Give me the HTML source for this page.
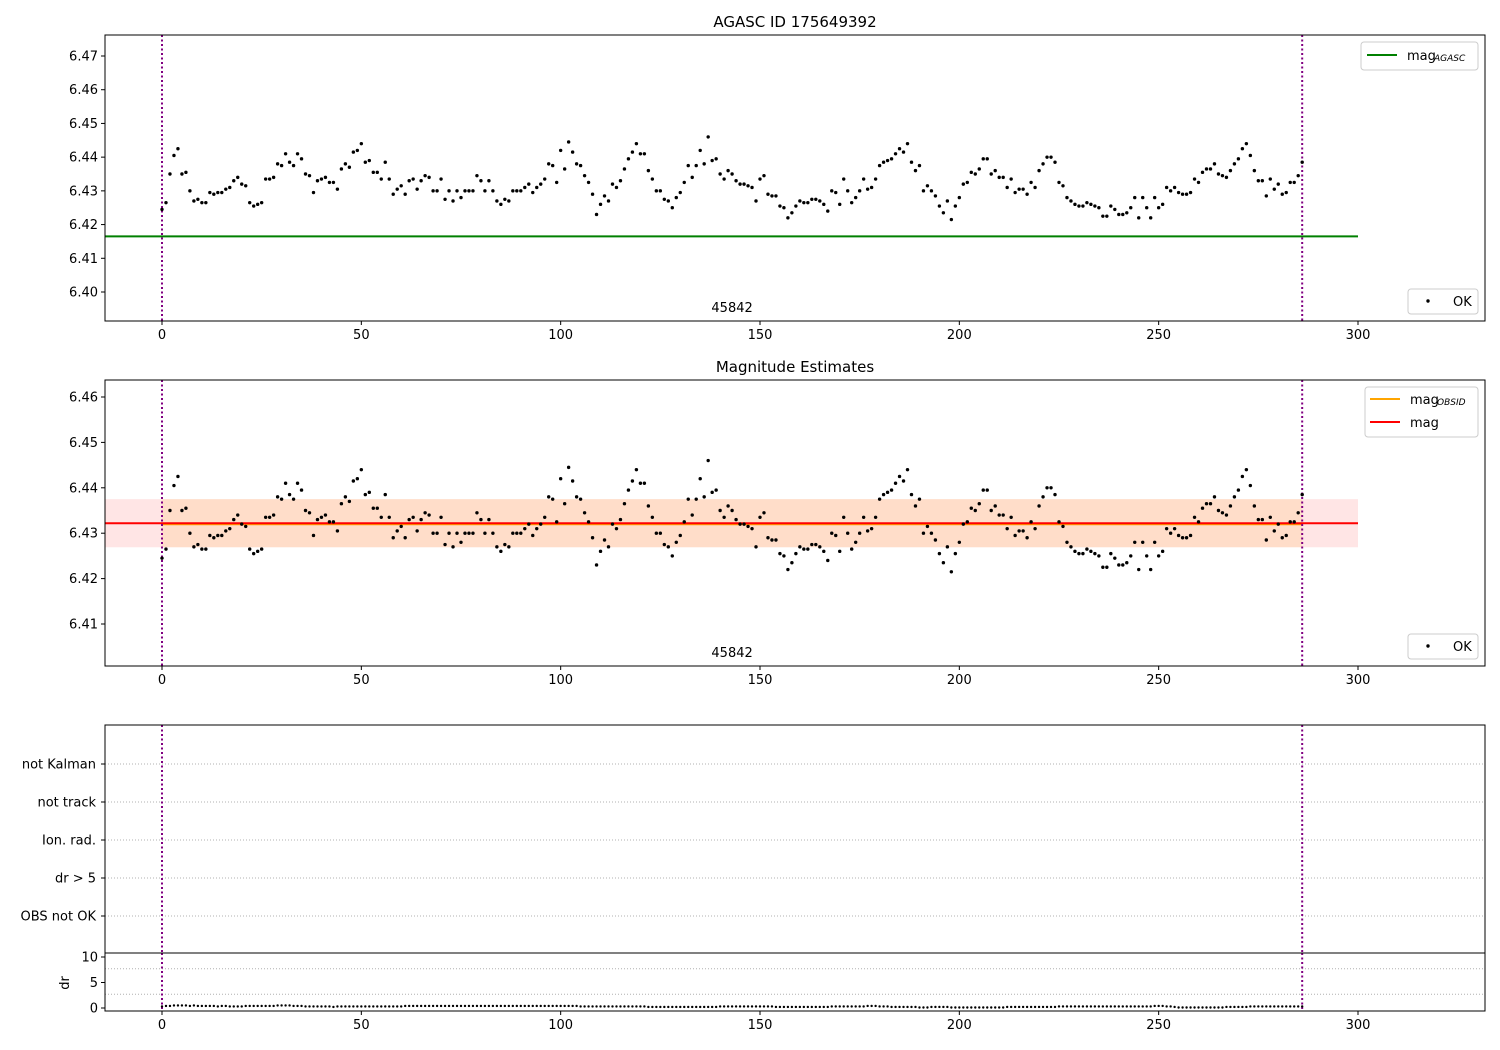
<!DOCTYPE html>
<html><head><meta charset="utf-8"><style>
html,body{margin:0;padding:0;background:#fff}
svg{display:block;font-family:"DejaVu Sans","Liberation Sans",sans-serif}
</style></head><body>
<svg id="fig" width="1500" height="1050" viewBox="0 0 1500 1050" xmlns="http://www.w3.org/2000/svg"></svg>
<script>
const mags = [6.4245,6.4265,6.435,6.4405,6.4425,6.435,6.4355,6.430,6.427,6.4275,6.4265,6.4265,6.4295,6.429,6.4295,6.4295,6.4305,6.431,6.433,6.434,
6.432,6.4315,6.4265,6.4255,6.426,6.4265,6.4335,6.4335,6.434,6.438,6.4375,6.441,6.4385,6.4375,6.441,6.4395,6.435,6.4345,6.4295,6.433,
6.4335,6.434,6.4325,6.4325,6.4305,6.4365,6.438,6.437,6.4415,6.442,6.444,6.4385,6.439,6.4355,6.4355,6.4335,6.4385,6.4335,6.429,6.4305,
6.4315,6.429,6.433,6.4335,6.4305,6.433,6.4345,6.434,6.430,6.430,6.4335,6.4275,6.430,6.427,6.430,6.428,6.430,6.430,6.430,6.4345,
6.433,6.430,6.433,6.430,6.427,6.426,6.4275,6.427,6.430,6.430,6.430,6.431,6.432,6.4295,6.431,6.432,6.4335,6.438,6.4375,6.4325,
6.442,6.4365,6.4445,6.4415,6.438,6.4375,6.4345,6.4325,6.429,6.423,6.426,6.4285,6.427,6.432,6.431,6.433,6.4365,6.4395,6.4415,6.444,
6.441,6.441,6.436,6.4335,6.430,6.430,6.4275,6.427,6.425,6.428,6.4295,6.4325,6.4375,6.434,6.4375,6.442,6.438,6.446,6.439,6.4395,
6.435,6.4335,6.436,6.435,6.433,6.432,6.432,6.4315,6.431,6.427,6.4335,6.4345,6.429,6.4285,6.4285,6.4255,6.425,6.422,6.4235,6.4255,
6.427,6.4265,6.4265,6.4275,6.4275,6.427,6.426,6.424,6.430,6.4295,6.426,6.4335,6.430,6.4265,6.428,6.430,6.4335,6.4305,6.431,6.4335,
6.4375,6.4385,6.439,6.4395,6.441,6.4425,6.4415,6.444,6.4385,6.436,6.4375,6.430,6.4315,6.430,6.4285,6.4255,6.4235,6.427,6.4215,6.4255,
6.428,6.432,6.4325,6.4355,6.435,6.4365,6.4395,6.4395,6.435,6.436,6.434,6.434,6.431,6.4335,6.4295,6.4305,6.4305,6.429,6.4325,6.431,
6.436,6.438,6.440,6.440,6.4385,6.4325,6.4315,6.428,6.427,6.426,6.4255,6.4255,6.4265,6.426,6.4255,6.425,6.4225,6.4225,6.4255,6.4245,
6.423,6.423,6.4235,6.425,6.428,6.422,6.428,6.425,6.422,6.428,6.425,6.426,6.431,6.430,6.431,6.4295,6.429,6.429,6.4295,6.4335,
6.4325,6.4355,6.4365,6.4365,6.438,6.435,6.4345,6.434,6.436,6.438,6.4395,6.4425,6.444,6.4405,6.436,6.433,6.433,6.4285,6.4335,6.4305,
6.432,6.429,6.4295,6.4325,6.4325,6.4345,6.4385];
const drVals = [0.3,0.4,0.4,0.5,0.5,0.5,0.5,0.4,0.5,0.4,0.4,0.4,0.4,0.4,0.3,0.4,0.4,0.3,0.3,0.3,
0.3,0.4,0.4,0.4,0.4,0.4,0.4,0.4,0.4,0.5,0.5,0.5,0.5,0.4,0.4,0.4,0.3,0.3,0.3,0.3,
0.3,0.3,0.3,0.2,0.3,0.3,0.3,0.3,0.3,0.3,0.3,0.3,0.3,0.3,0.3,0.3,0.3,0.3,0.3,0.3,
0.3,0.4,0.4,0.4,0.4,0.4,0.4,0.4,0.4,0.4,0.4,0.4,0.4,0.4,0.4,0.4,0.4,0.4,0.4,0.4,
0.4,0.4,0.4,0.4,0.4,0.4,0.4,0.4,0.4,0.4,0.4,0.4,0.4,0.4,0.4,0.4,0.4,0.4,0.4,0.4,
0.4,0.4,0.4,0.4,0.4,0.3,0.3,0.3,0.3,0.3,0.3,0.3,0.3,0.3,0.3,0.3,0.3,0.3,0.3,0.3,
0.3,0.3,0.2,0.2,0.2,0.2,0.2,0.2,0.2,0.2,0.2,0.2,0.2,0.2,0.2,0.2,0.2,0.2,0.2,0.2,
0.3,0.3,0.3,0.3,0.3,0.3,0.3,0.3,0.3,0.3,0.3,0.3,0.3,0.3,0.2,0.2,0.2,0.2,0.2,0.2,
0.2,0.2,0.2,0.2,0.2,0.2,0.2,0.2,0.3,0.3,0.3,0.3,0.3,0.3,0.3,0.3,0.3,0.4,0.4,0.4,
0.3,0.3,0.3,0.2,0.2,0.2,0.2,0.2,0.2,0.2,0.1,0.1,0.1,0.2,0.2,0.2,0.2,0.2,0.1,0.1,
0.1,0.1,0.1,0.1,0.1,0.1,0.1,0.1,0.1,0.1,0.1,0.1,0.2,0.2,0.2,0.2,0.2,0.2,0.2,0.2,
0.2,0.2,0.2,0.2,0.2,0.3,0.3,0.3,0.3,0.3,0.3,0.3,0.3,0.3,0.3,0.3,0.3,0.3,0.3,0.3,
0.3,0.3,0.3,0.3,0.3,0.3,0.3,0.3,0.3,0.4,0.4,0.4,0.3,0.3,0.2,0.1,0.1,0.1,0.1,0.1,
0.1,0.1,0.1,0.1,0.1,0.1,0.1,0.2,0.2,0.2,0.2,0.2,0.2,0.3,0.3,0.3,0.3,0.3,0.3,0.3,
0.3,0.3,0.3,0.3,0.3,0.3,0.3];
const xTicks = [0,50,100,150,200,250,300];
const y1Ticks = [6.40,6.41,6.42,6.43,6.44,6.45,6.46,6.47];
const y2Ticks = [6.41,6.42,6.43,6.44,6.45,6.46];
const flagLabels = ["not Kalman","not track","Ion. rad.","dr > 5","OBS not OK"];
const drTicks = [0,5,10];
const magAgasc = 6.4165;
const magObsid = 6.4322;
const magErr = 0.0053;
const obsStart = 0, obsEnd = 286;

const NS="http://www.w3.org/2000/svg";
const svg=document.getElementById('fig');
function el(tag,attrs,parent){const e=document.createElementNS(NS,tag);for(const k in attrs)e.setAttribute(k,attrs[k]);(parent||svg).appendChild(e);return e;}
function txt(s,attrs){const t=el('text',attrs);t.textContent=s;return t;}
const L=105,R=1485;
const X=v=>162+v*(1358-162)/300;
const Y1=v=>292+(6.40-v)*(292-56)/0.07;
const Y2=v=>624+(6.41-v)*(624-397)/0.05;
const Y4=v=>1008-v*(1008-957)/10;

function frame(top,bot,name){const r=el('rect',{x:L,y:top,width:R-L,height:bot-top,fill:'none',stroke:'#000','stroke-width':1});

}
function xAxis(bot,labels){xTicks.forEach(t=>{el('line',{x1:X(t),x2:X(t),y1:bot,y2:bot+4,stroke:'#000'});
if(labels){const s=txt(String(t),{x:X(t),y:bot+18,'font-size':13,'text-anchor':'middle'});

}});}
function yAxis(ticks,Yf,fmt){ticks.forEach(t=>{el('line',{x1:L-4,x2:L,y1:Yf(t),y2:Yf(t),stroke:'#000'});
const s=txt(fmt(t),{x:L-7,y:Yf(t)+4.5,'font-size':13,'text-anchor':'end'});

});}
function vlines(top,bot){[obsStart,obsEnd].forEach(v=>{const l=el('line',{x1:X(v),x2:X(v),y1:top,y2:bot,stroke:'#800080','stroke-width':2,'stroke-dasharray':'2,2.5'});

});}
function points(vals,Yf,name,r){const g=el('g',{});


vals.forEach((v,i)=>el('circle',{cx:X(i),cy:Yf(v),r:r||1.7,fill:'#000'},g));}
function legendBox(x,y,w,h){el('rect',{x:x,y:y,width:w,height:h,rx:3,fill:'#fff',stroke:'#ccc'});}

// Panel 1
let t=txt('AGASC ID 175649392',{x:795,y:27,'font-size':15,'text-anchor':'middle'});


let gl=el('line',{x1:X(-14.35),x2:X(300),y1:Y1(magAgasc),y2:Y1(magAgasc),stroke:'#008000','stroke-width':2});


vlines(35,321);
points(mags,Y1,'mag-points-top');
t=txt('45842',{x:X(143),y:312,'font-size':13,'text-anchor':'middle'});


frame(35,321,'top-axes');xAxis(321,true);yAxis(y1Ticks,Y1,v=>v.toFixed(2));
legendBox(1361,42,117,28);el('line',{x1:1367,x2:1397,y1:55,y2:55,stroke:'#008000','stroke-width':2});
t=txt('mag',{x:1407,y:60,'font-size':13});
txt('AGASC',{x:1434,y:61,'font-size':9,'font-style':'italic'});
legendBox(1408,289,70,25);el('circle',{cx:1428,cy:301,r:1.7,fill:'#000'});
t=txt('OK',{x:1453,y:306,'font-size':13});

// Panel 2
t=txt('Magnitude Estimates',{x:795,y:372,'font-size':15,'text-anchor':'middle'});


let b=el('rect',{x:X(-14.35),y:Y2(magObsid+magErr),width:X(300)-X(-14.35),height:Y2(magObsid-magErr)-Y2(magObsid+magErr),fill:'#ff0000','fill-opacity':0.1});


b=el('rect',{x:X(obsStart),y:Y2(magObsid+magErr),width:X(obsEnd)-X(obsStart),height:Y2(magObsid-magErr)-Y2(magObsid+magErr),fill:'#ffa500','fill-opacity':0.12});


let ol=el('line',{x1:X(obsStart),x2:X(obsEnd),y1:Y2(magObsid)+1,y2:Y2(magObsid)+1,stroke:'#ffa500','stroke-width':2});


let rl=el('line',{x1:X(-14.35),x2:X(300),y1:Y2(magObsid),y2:Y2(magObsid),stroke:'#ff0000','stroke-width':2});


vlines(380,666);
points(mags,Y2,'mag-points-middle');
t=txt('45842',{x:X(143),y:657,'font-size':13,'text-anchor':'middle'});


frame(380,666,'middle-axes');xAxis(666,true);yAxis(y2Ticks,Y2,v=>v.toFixed(2));
legendBox(1365,387,113,50);
el('line',{x1:1370,x2:1400,y1:399,y2:399,stroke:'#ffa500','stroke-width':2});
t=txt('mag',{x:1410,y:404,'font-size':13});
txt('OBSID',{x:1437,y:405,'font-size':9,'font-style':'italic'});
el('line',{x1:1370,x2:1400,y1:422,y2:422,stroke:'#ff0000','stroke-width':2});
t=txt('mag',{x:1410,y:427,'font-size':13});
legendBox(1408,634,70,25);el('circle',{cx:1428,cy:646,r:1.7,fill:'#000'});
t=txt('OK',{x:1453,y:651,'font-size':13});

// Panel 3 flags
const flagY=[764,802,840,878,916];
flagLabels.forEach((s,i)=>{el('line',{x1:L,x2:R,y1:flagY[i],y2:flagY[i],stroke:'#b0b0b0','stroke-dasharray':'1,2'});
el('line',{x1:L-4,x2:L,y1:flagY[i],y2:flagY[i],stroke:'#000'});
const q=txt(s,{x:L-9,y:flagY[i]+4.5,'font-size':13,'text-anchor':'end'});

});
vlines(725,953);
frame(725,953,'flags-axes');

// Panel 4 dr
[2.5,7.5].forEach(v=>el('line',{x1:L,x2:R,y1:Y4(v)-1,y2:Y4(v)-1,stroke:'#b0b0b0','stroke-dasharray':'1,2'}));
vlines(953,1011);
points(drVals,Y4,'dr-points',1.2);
frame(953,1011,'dr-axes');xAxis(1011,true);yAxis(drTicks,Y4,v=>String(v));
t=txt('dr',{x:0,y:0,'font-size':13,'text-anchor':'middle',transform:'translate(69,983) rotate(-90)'});


</script>
</body></html>
